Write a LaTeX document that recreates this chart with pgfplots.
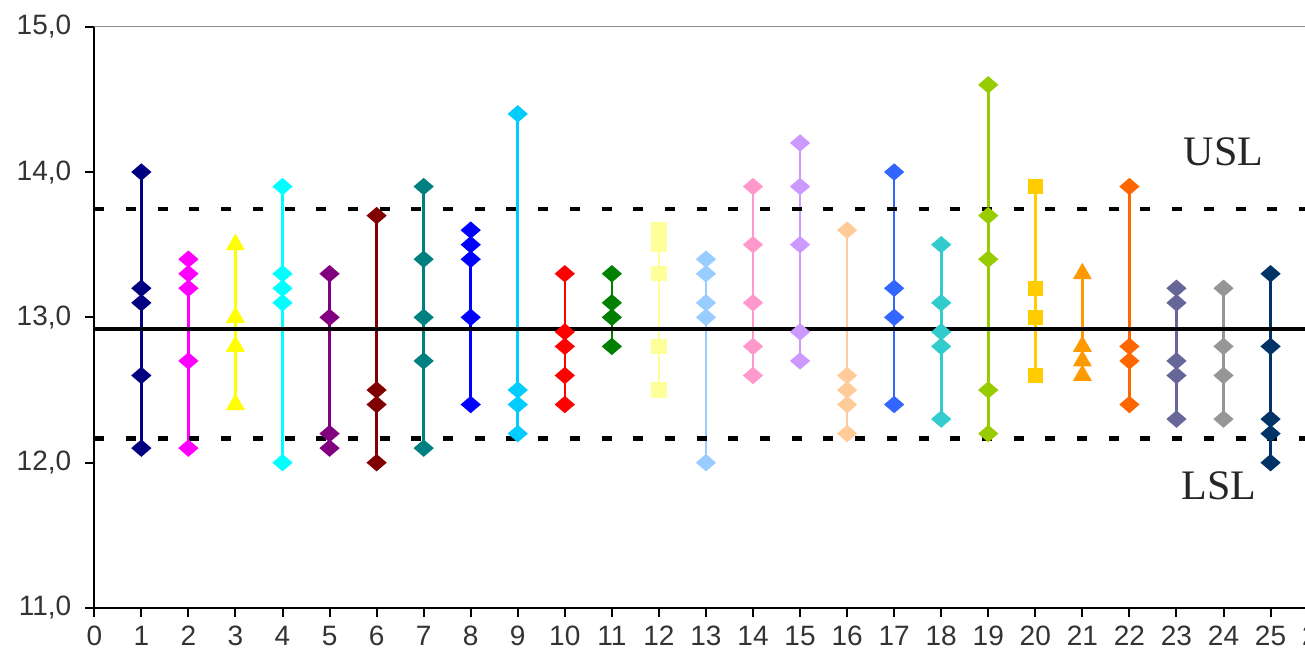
\documentclass[border=0pt]{standalone}
\usepackage{fontspec}
\setmainfont{Liberation Sans}
\newfontfamily\seriffont{Liberation Serif}
\usepackage{pgfplots}
\pgfplotsset{compat=1.18}
\definecolor{c1}{HTML}{000080}
\definecolor{c2}{HTML}{FF00FF}
\definecolor{c3}{HTML}{FFFF00}
\definecolor{c4}{HTML}{00FFFF}
\definecolor{c5}{HTML}{800080}
\definecolor{c6}{HTML}{800000}
\definecolor{c7}{HTML}{008080}
\definecolor{c8}{HTML}{0000FF}
\definecolor{c9}{HTML}{00CCFF}
\definecolor{c10}{HTML}{FF0000}
\definecolor{c11}{HTML}{008000}
\definecolor{c12}{HTML}{FFFF99}
\definecolor{c13}{HTML}{99CCFF}
\definecolor{c14}{HTML}{FF99CC}
\definecolor{c15}{HTML}{CC99FF}
\definecolor{c16}{HTML}{FFCC99}
\definecolor{c17}{HTML}{3366FF}
\definecolor{c18}{HTML}{33CCCC}
\definecolor{c19}{HTML}{99CC00}
\definecolor{c20}{HTML}{FFCC00}
\definecolor{c21}{HTML}{FF9900}
\definecolor{c22}{HTML}{FF6600}
\definecolor{c23}{HTML}{666699}
\definecolor{c24}{HTML}{969696}
\definecolor{c25}{HTML}{003366}
\pgfplotsset{
  dia/.style={color=#1, line width=1.3pt, mark=diamond*, mark size=3.5pt, mark options={xscale=1.55, solid}},
  tri/.style={color=#1, line width=1.3pt, mark=triangle*, mark size=4.2pt, mark options={solid}},
  sqr/.style={color=#1, line width=1.3pt, mark=square*, mark size=3.2pt, mark options={solid}},
}
\begin{document}
\begin{tikzpicture}
\useasboundingbox (-47.15pt,-27.5pt) rectangle (605.35pt,304pt);
\clip (-47.15pt,-27.5pt) rectangle (605.35pt,304pt);
\begin{axis}[
  at={(0,0)}, anchor=south west,
  scale only axis, width=611.65pt, height=290.65pt,
  xmin=0, xmax=26, ymin=11, ymax=15,
  axis x line*=bottom, axis y line*=left,
  axis line style={black, line width=1.1pt},
  xtick={0,...,26}, ytick={11,12,13,14,15},
  tick align=outside, major tick length=4.5pt,
  tick style={black, line width=1pt},
  ticklabel style={font=\fontsize{14}{16}\selectfont, text=black!80},
  yticklabel style={xshift=-3.5pt},
  xticklabel style={yshift=-1pt},
  /pgf/number format/assume math mode=true,
  yticklabel={\pgfmathprintnumber[fixed, fixed zerofill, precision=1, use comma]{\tick}},
  xticklabel={\pgfmathprintnumber[fixed, precision=0]{\tick}},
  clip=false,
]
\addplot[dia=c1] coordinates {(1,14.0)(1,13.2)(1,13.1)(1,12.6)(1,12.1)};
\addplot[dia=c2] coordinates {(2,13.4)(2,13.3)(2,13.2)(2,12.7)(2,12.1)};
\addplot[tri=c3] coordinates {(3,13.5)(3,13.0)(3,12.8)(3,12.4)};
\addplot[dia=c4] coordinates {(4,13.9)(4,13.3)(4,13.2)(4,13.1)(4,12.0)};
\addplot[dia=c5] coordinates {(5,13.3)(5,13.0)(5,12.2)(5,12.1)};
\addplot[dia=c6] coordinates {(6,13.7)(6,12.5)(6,12.4)(6,12.0)};
\addplot[dia=c7] coordinates {(7,13.9)(7,13.4)(7,13.0)(7,12.7)(7,12.1)};
\addplot[dia=c8] coordinates {(8,13.6)(8,13.5)(8,13.4)(8,13.0)(8,12.4)};
\addplot[dia=c9] coordinates {(9,14.4)(9,12.5)(9,12.4)(9,12.2)};
\addplot[dia=c10] coordinates {(10,13.3)(10,12.9)(10,12.8)(10,12.6)(10,12.4)};
\addplot[dia=c11] coordinates {(11,13.3)(11,13.1)(11,13.0)(11,12.8)};
\addplot[sqr=c12] coordinates {(12,13.6)(12,13.5)(12,13.3)(12,12.8)(12,12.5)};
\addplot[dia=c13] coordinates {(13,13.4)(13,13.3)(13,13.1)(13,13.0)(13,12.0)};
\addplot[dia=c14] coordinates {(14,13.9)(14,13.5)(14,13.1)(14,12.8)(14,12.6)};
\addplot[dia=c15] coordinates {(15,14.2)(15,13.9)(15,13.5)(15,12.9)(15,12.7)};
\addplot[dia=c16] coordinates {(16,13.6)(16,12.6)(16,12.5)(16,12.4)(16,12.2)};
\addplot[dia=c17] coordinates {(17,14.0)(17,13.2)(17,13.0)(17,12.4)};
\addplot[dia=c18] coordinates {(18,13.5)(18,13.1)(18,12.9)(18,12.8)(18,12.3)};
\addplot[dia=c19] coordinates {(19,14.6)(19,13.7)(19,13.4)(19,12.5)(19,12.2)};
\addplot[sqr=c20] coordinates {(20,13.9)(20,13.2)(20,13.0)(20,12.6)};
\addplot[tri=c21] coordinates {(21,13.3)(21,12.8)(21,12.7)(21,12.6)};
\addplot[dia=c22] coordinates {(22,13.9)(22,12.8)(22,12.7)(22,12.4)};
\addplot[dia=c23] coordinates {(23,13.2)(23,13.1)(23,12.7)(23,12.6)(23,12.3)};
\addplot[dia=c24] coordinates {(24,13.2)(24,12.8)(24,12.6)(24,12.3)};
\addplot[dia=c25] coordinates {(25,13.3)(25,12.8)(25,12.3)(25,12.2)(25,12.0)};
% mean and specification limits
\addplot[black, line width=2pt, mark=none] coordinates {(0,12.922)(26,12.922)};
\addplot[black, line width=2.2pt, mark=none, dash pattern=on 5pt off 10.85pt] coordinates {(0,13.745)(26,13.745)};
\addplot[black, line width=2.2pt, mark=none, dash pattern=on 5pt off 10.85pt] coordinates {(0,12.165)(26,12.165)};
\draw[black!45, line width=0.8pt] (rel axis cs:0,1) -- (rel axis cs:1,1);
\node[font=\seriffont\fontsize{21}{24}\selectfont, text=black!85] at (axis cs:24.0,14.14) {USL};
\node[font=\seriffont\fontsize{21}{24}\selectfont, text=black!85] at (axis cs:23.9,11.84) {LSL};
\end{axis}
\end{tikzpicture}
\end{document}
